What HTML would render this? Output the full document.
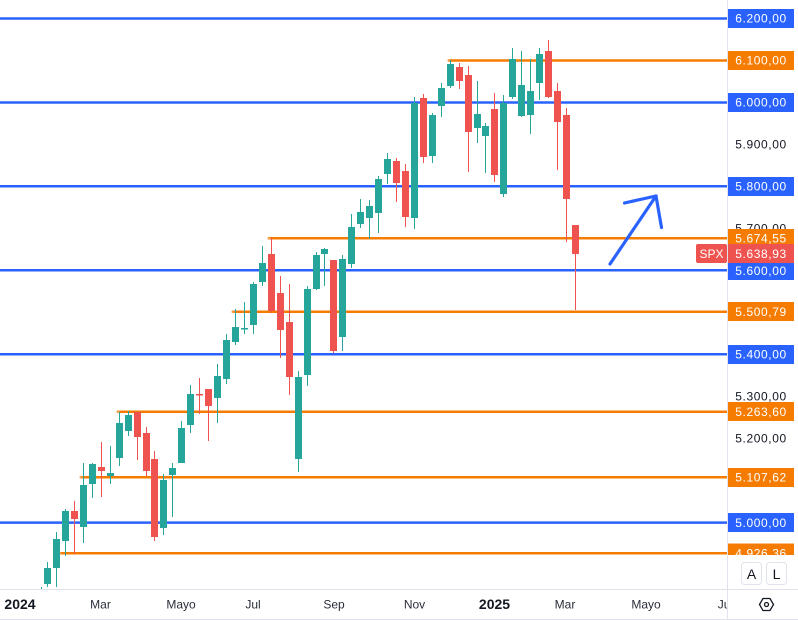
<!DOCTYPE html>
<html><head><meta charset="utf-8"><style>
html,body{margin:0;padding:0;background:#fff;}
svg{display:block;}
.pl{font-family:"Liberation Sans",sans-serif;font-size:12px;letter-spacing:0.6px;}
.tl{font-family:"Liberation Sans",sans-serif;}
</style></head><body>
<svg width="798" height="620" viewBox="0 0 798 620" xmlns="http://www.w3.org/2000/svg">
<defs>
<clipPath id="chart"><rect x="0" y="0" width="727" height="589"/></clipPath>
<clipPath id="axis"><rect x="728" y="0" width="70" height="555"/></clipPath>
<clipPath id="taxis"><rect x="0" y="590" width="727" height="29"/></clipPath>
</defs>
<rect width="798" height="620" fill="#fff"/>
<g clip-path="url(#chart)">
<!-- blue lines -->
<g stroke="#2962ff" stroke-width="2.5">
<line x1="0" y1="18.5" x2="727" y2="18.5"/>
<line x1="0" y1="102.5" x2="727" y2="102.5"/>
<line x1="0" y1="186.2" x2="727" y2="186.2"/>
<line x1="0" y1="270.2" x2="727" y2="270.2"/>
<line x1="0" y1="354.3" x2="727" y2="354.3"/>
<line x1="0" y1="522.6" x2="727" y2="522.6"/>
</g>
<!-- orange lines -->
<g stroke="#f57c00" stroke-width="2.5">
<line x1="449" y1="60.5" x2="727" y2="60.5"/>
<line x1="269" y1="238.2" x2="727" y2="238.2"/>
<line x1="233" y1="311.7" x2="727" y2="311.7"/>
<line x1="118" y1="411.7" x2="727" y2="411.7"/>
<line x1="81" y1="477.2" x2="727" y2="477.2"/>
<line x1="60" y1="553.2" x2="727" y2="553.2"/>
</g>
<g fill="#f7a050">
<circle cx="449" cy="60.5" r="1.5"/><circle cx="269" cy="238.2" r="1.5"/><circle cx="233" cy="311.7" r="1.5"/>
<circle cx="118" cy="411.7" r="1.5"/><circle cx="81" cy="477.2" r="1.5"/><circle cx="60" cy="553.2" r="1.5"/>
</g>
<!-- candles -->
<g id="candles">
<rect x="41" y="587" width="1" height="3" fill="#26a69a"/>
<!-- i0 -->
<rect x="47" y="562" width="1" height="25" fill="#26a69a"/><rect x="44" y="568" width="7" height="16" fill="#26a69a"/>
<rect x="56" y="532" width="1" height="55" fill="#26a69a"/><rect x="53" y="539" width="7" height="29" fill="#26a69a"/>
<rect x="65" y="509" width="1" height="47" fill="#26a69a"/><rect x="62" y="511" width="7" height="30" fill="#26a69a"/>
<rect x="74" y="501" width="1" height="53" fill="#ef5350"/><rect x="71" y="511" width="7" height="8" fill="#ef5350"/>
<rect x="83" y="463" width="1" height="80" fill="#26a69a"/><rect x="80" y="485" width="7" height="42" fill="#26a69a"/>
<rect x="92" y="463" width="1" height="35" fill="#26a69a"/><rect x="89" y="464" width="7" height="20" fill="#26a69a"/>
<rect x="101" y="442" width="1" height="55" fill="#ef5350"/><rect x="98" y="467" width="7" height="4" fill="#ef5350"/>
<rect x="110" y="446" width="1" height="38" fill="#26a69a"/><rect x="107" y="473" width="7" height="3" fill="#26a69a"/>
<rect x="119" y="412" width="1" height="54" fill="#26a69a"/><rect x="116" y="423" width="7" height="35" fill="#26a69a"/>
<rect x="128" y="411" width="1" height="25" fill="#26a69a"/><rect x="125" y="415" width="7" height="16" fill="#26a69a"/>
<rect x="137" y="412" width="1" height="48" fill="#ef5350"/><rect x="134" y="412" width="7" height="25" fill="#ef5350"/>
<rect x="146" y="427" width="1" height="49" fill="#ef5350"/><rect x="143" y="433" width="7" height="38" fill="#ef5350"/>
<rect x="154" y="451" width="1" height="90" fill="#ef5350"/><rect x="151" y="459" width="7" height="78" fill="#ef5350"/>
<rect x="163" y="474" width="1" height="61" fill="#26a69a"/><rect x="160" y="480" width="7" height="48" fill="#26a69a"/>
<rect x="172" y="463" width="1" height="54" fill="#26a69a"/><rect x="169" y="468" width="7" height="7" fill="#26a69a"/>
<rect x="181" y="421" width="1" height="42" fill="#26a69a"/><rect x="178" y="428" width="7" height="35" fill="#26a69a"/>
<rect x="190" y="385" width="1" height="48" fill="#26a69a"/><rect x="187" y="394" width="7" height="31" fill="#26a69a"/>
<rect x="199" y="378" width="1" height="36" fill="#ef5350"/><rect x="196" y="394" width="7" height="1.5" fill="#ef5350"/>
<rect x="208" y="389" width="1" height="52" fill="#ef5350"/><rect x="205" y="389" width="7" height="17" fill="#ef5350"/>
<rect x="217" y="364" width="1" height="59" fill="#26a69a"/><rect x="214" y="376" width="7" height="22" fill="#26a69a"/>
<rect x="226" y="334" width="1" height="50" fill="#26a69a"/><rect x="223" y="340" width="7" height="39" fill="#26a69a"/>
<rect x="235" y="309" width="1" height="36" fill="#26a69a"/><rect x="232" y="327" width="7" height="15" fill="#26a69a"/>
<rect x="244" y="302" width="1" height="32" fill="#26a69a"/><rect x="241" y="328" width="7" height="1.5" fill="#26a69a"/>
<rect x="253" y="282" width="1" height="52" fill="#26a69a"/><rect x="250" y="284" width="7" height="41" fill="#26a69a"/>
<rect x="262" y="246" width="1" height="40" fill="#26a69a"/><rect x="259" y="263" width="7" height="19" fill="#26a69a"/>
<rect x="271" y="238" width="1" height="75" fill="#ef5350"/><rect x="268" y="254" width="7" height="57" fill="#ef5350"/>
<rect x="280" y="276" width="1" height="82" fill="#ef5350"/><rect x="277" y="293" width="7" height="37" fill="#ef5350"/>
<rect x="289" y="284" width="1" height="111" fill="#ef5350"/><rect x="286" y="322" width="7" height="55" fill="#ef5350"/>
<rect x="298" y="371" width="1" height="101" fill="#26a69a"/><rect x="295" y="377" width="7" height="82" fill="#26a69a"/>
<rect x="307" y="286" width="1" height="100" fill="#26a69a"/><rect x="304" y="289" width="7" height="86" fill="#26a69a"/>
<rect x="316" y="252" width="1" height="38" fill="#26a69a"/><rect x="313" y="255" width="7" height="34" fill="#26a69a"/>
<rect x="324" y="248" width="1" height="38" fill="#26a69a"/><rect x="321" y="249" width="7" height="5" fill="#26a69a"/>
<rect x="333" y="260" width="1" height="93" fill="#ef5350"/><rect x="330" y="260" width="7" height="91" fill="#ef5350"/>
<rect x="342" y="255" width="1" height="96" fill="#26a69a"/><rect x="339" y="259" width="7" height="78" fill="#26a69a"/>
<rect x="351" y="214" width="1" height="54" fill="#26a69a"/><rect x="348" y="227" width="7" height="37" fill="#26a69a"/>
<rect x="360" y="199" width="1" height="29" fill="#26a69a"/><rect x="357" y="212" width="7" height="12" fill="#26a69a"/>
<rect x="369" y="200" width="1" height="39" fill="#26a69a"/><rect x="366" y="206" width="7" height="12" fill="#26a69a"/>
<rect x="378" y="176" width="1" height="57" fill="#26a69a"/><rect x="375" y="179" width="7" height="34" fill="#26a69a"/>
<rect x="387" y="153" width="1" height="31" fill="#26a69a"/><rect x="384" y="159" width="7" height="15" fill="#26a69a"/>
<rect x="396" y="158" width="1" height="44" fill="#ef5350"/><rect x="393" y="161" width="7" height="22" fill="#ef5350"/>
<rect x="405" y="164" width="1" height="63" fill="#ef5350"/><rect x="402" y="171" width="7" height="46" fill="#ef5350"/>
<rect x="414" y="97" width="1" height="132" fill="#26a69a"/><rect x="411" y="103" width="7" height="115" fill="#26a69a"/>
<rect x="423" y="94" width="1" height="69" fill="#ef5350"/><rect x="420" y="98" width="7" height="59" fill="#ef5350"/>
<rect x="432" y="113" width="1" height="50" fill="#26a69a"/><rect x="429" y="115" width="7" height="41" fill="#26a69a"/>
<rect x="441" y="83" width="1" height="34" fill="#26a69a"/><rect x="438" y="88" width="7" height="18" fill="#26a69a"/>
<rect x="450" y="60" width="1" height="28" fill="#26a69a"/><rect x="447" y="64" width="7" height="22" fill="#26a69a"/>
<rect x="459" y="63" width="1" height="26" fill="#ef5350"/><rect x="456" y="67" width="7" height="14" fill="#ef5350"/>
<rect x="468" y="66" width="1" height="106" fill="#ef5350"/><rect x="465" y="75" width="7" height="57" fill="#ef5350"/>
<rect x="477" y="81" width="1" height="62" fill="#26a69a"/><rect x="474" y="114" width="7" height="14" fill="#26a69a"/>
<rect x="485" y="123" width="1" height="50" fill="#26a69a"/><rect x="482" y="126" width="7" height="10" fill="#26a69a"/>
<rect x="494" y="93" width="1" height="89" fill="#ef5350"/><rect x="491" y="109" width="7" height="66" fill="#ef5350"/>
<rect x="503" y="95" width="1" height="102" fill="#26a69a"/><rect x="500" y="103" width="7" height="91" fill="#26a69a"/>
<rect x="512" y="48" width="1" height="51" fill="#26a69a"/><rect x="509" y="59" width="7" height="38" fill="#26a69a"/>
<rect x="521" y="51" width="1" height="66" fill="#26a69a"/><rect x="518" y="85" width="7" height="31" fill="#26a69a"/>
<rect x="530" y="59" width="1" height="75" fill="#26a69a"/><rect x="527" y="91" width="7" height="24" fill="#26a69a"/>
<rect x="539" y="48" width="1" height="52" fill="#26a69a"/><rect x="536" y="54" width="7" height="29" fill="#26a69a"/>
<rect x="548" y="40" width="1" height="58" fill="#ef5350"/><rect x="545" y="51" width="7" height="46" fill="#ef5350"/>
<rect x="557" y="83" width="1" height="87" fill="#ef5350"/><rect x="554" y="91" width="7" height="31" fill="#ef5350"/>
<rect x="566" y="108" width="1" height="134" fill="#ef5350"/><rect x="563" y="115" width="7" height="84" fill="#ef5350"/>
<rect x="575" y="225" width="1" height="85" fill="#ef5350"/><rect x="572" y="225" width="7" height="29" fill="#ef5350"/>
</g>
<!-- arrow -->
<g stroke="#2962ff" stroke-width="3.2" stroke-linecap="round" fill="none">
<line x1="610" y1="264" x2="656" y2="196"/>
<line x1="656" y1="196" x2="624.5" y2="203"/>
<line x1="656" y1="196" x2="661.5" y2="227.5"/>
</g>
<!-- SPX tag -->
<rect x="696" y="244" width="31" height="19" rx="2" fill="#ef5350"/>
<text x="711.5" y="258" class="tl" font-size="12" fill="#fff" text-anchor="middle">SPX</text>
</g>
<!-- axis separators -->
<line x1="727.5" y1="0" x2="727.5" y2="620" stroke="#e0e3eb" stroke-width="1"/>
<line x1="0" y1="589.5" x2="798" y2="589.5" stroke="#e0e3eb" stroke-width="1"/>
<line x1="0" y1="619.5" x2="798" y2="619.5" stroke="#e0e3eb" stroke-width="1"/>
<!-- price axis -->
<g clip-path="url(#axis)" class="pl" text-anchor="middle">
<text x="761" y="148.7" fill="#131722">5.900,00</text>
<text x="761" y="232.7" fill="#131722">5.700,00</text>
<text x="761" y="400.7" fill="#131722">5.300,00</text>
<text x="761" y="442.7" fill="#131722">5.200,00</text>
<rect x="728" y="9" width="66" height="19" fill="#2962ff"/><text x="761" y="22.7" fill="#fff">6.200,00</text>
<rect x="728" y="51" width="66" height="19" fill="#f57c00"/><text x="761" y="64.7" fill="#fff">6.100,00</text>
<rect x="728" y="93" width="66" height="19" fill="#2962ff"/><text x="761" y="106.7" fill="#fff">6.000,00</text>
<rect x="728" y="177" width="66" height="19" fill="#2962ff"/><text x="761" y="190.7" fill="#fff">5.800,00</text>
<rect x="728" y="229" width="66" height="19" fill="#f57c00"/><text x="761" y="242.4" fill="#fff">5.674,55</text>
<rect x="728" y="261" width="66" height="19" fill="#2962ff"/><text x="761" y="275" fill="#fff">5.600,00</text>
<rect x="728" y="244" width="66" height="19" fill="#ef5350"/><text x="761" y="258" fill="#fff">5.638,93</text>
<rect x="728" y="302" width="66" height="19" fill="#f57c00"/><text x="761" y="316" fill="#fff">5.500,79</text>
<rect x="728" y="345" width="66" height="19" fill="#2962ff"/><text x="761" y="358.7" fill="#fff">5.400,00</text>
<rect x="728" y="402" width="66" height="19" fill="#f57c00"/><text x="761" y="416" fill="#fff">5.263,60</text>
<rect x="728" y="468" width="66" height="19" fill="#f57c00"/><text x="761" y="481.5" fill="#fff">5.107,62</text>
<rect x="728" y="513" width="66" height="19" fill="#2962ff"/><text x="761" y="527" fill="#fff">5.000,00</text>
<rect x="728" y="543.5" width="66" height="19" fill="#f57c00"/><text x="761" y="557.3" fill="#fff">4.926,36</text>
</g>
<!-- A / L buttons -->
<rect x="741.5" y="562.5" width="20" height="22" rx="3" fill="#fff" stroke="#e0e3eb"/>
<text x="751.5" y="579" class="tl" font-size="14" fill="#131722" text-anchor="middle">A</text>
<rect x="766.5" y="562.5" width="20" height="22" rx="3" fill="#fff" stroke="#e0e3eb"/>
<text x="776.5" y="579" class="tl" font-size="14" fill="#131722" text-anchor="middle">L</text>
<!-- time axis -->
<g class="tl" fill="#131722" clip-path="url(#taxis)">
<text x="20" y="609" font-size="14" font-weight="bold" text-anchor="middle">2024</text>
<text x="100.5" y="608.5" font-size="12" text-anchor="middle" fill="#2a2e39">Mar</text>
<text x="181" y="608.5" font-size="12" text-anchor="middle" fill="#2a2e39">Mayo</text>
<text x="253" y="608.5" font-size="12" text-anchor="middle" fill="#2a2e39">Jul</text>
<text x="334" y="608.5" font-size="12" text-anchor="middle" fill="#2a2e39">Sep</text>
<text x="414.5" y="608.5" font-size="12" text-anchor="middle" fill="#2a2e39">Nov</text>
<text x="494.5" y="609" font-size="14" font-weight="bold" text-anchor="middle">2025</text>
<text x="565" y="608.5" font-size="12" text-anchor="middle" fill="#2a2e39">Mar</text>
<text x="646" y="608.5" font-size="12" text-anchor="middle" fill="#2a2e39">Mayo</text>
<text x="717.7" y="608.5" font-size="12" fill="#2a2e39">Jul</text>
</g>
<!-- settings icon -->
<g stroke="#131722" stroke-width="1.3" fill="none">
<polygon points="759.5,604.5 763,598.5 770,598.5 773.5,604.5 770,610.5 763,610.5"/>
<circle cx="766.5" cy="604.5" r="2"/>
</g>
</svg>
</body></html>
